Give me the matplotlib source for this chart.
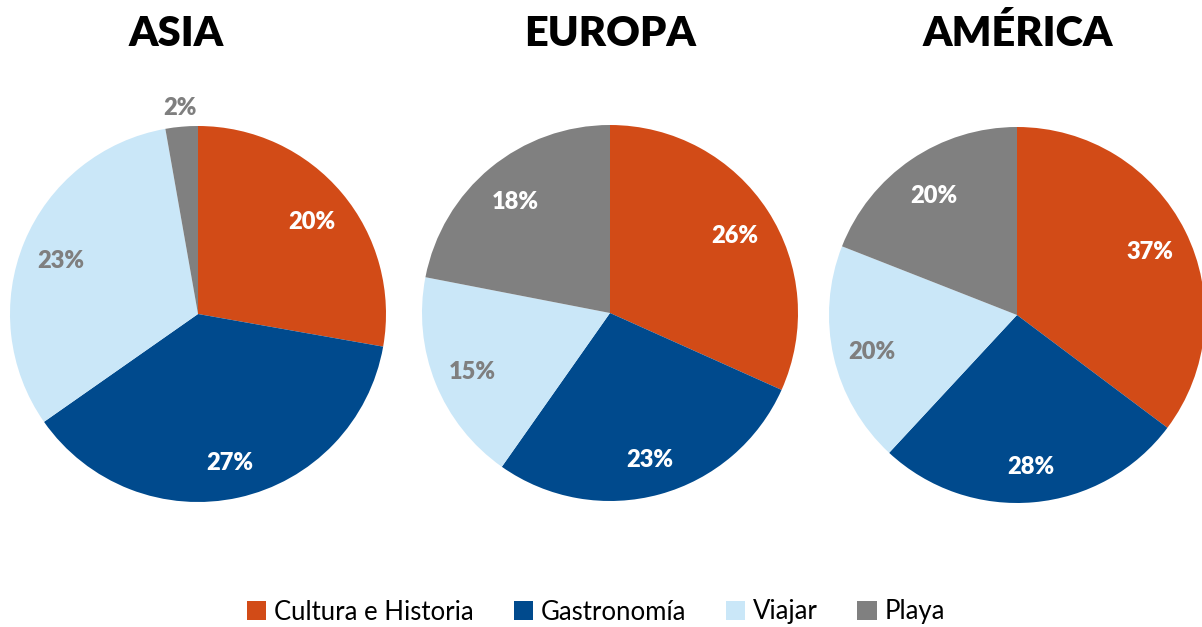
import matplotlib.pyplot as plt
from matplotlib.patches import Patch
import numpy as np

plt.rcParams['font.family'] = ['Lato', 'DejaVu Sans']

categorias = ["Cultura e Historia", "Gastronomía", "Viajar", "Playa"]
colores = ["#D24B17", "#004A8D", "#CAE7F8", "#808080"]
regiones = ["ASIA", "EUROPA", "AMÉRICA"]
asia = [20, 27, 23, 2]
europa = [26, 23, 15, 18]
america = [37, 28, 20, 20]
valores = [asia, europa, america]

# color of the value labels per category
color_etiqueta = ["white", "white", "#7F7F7F", "white"]

W, H = 1202, 627
fig = plt.figure(figsize=(W / 100, H / 100), dpi=100)

centros = [(198, 314), (610, 313), (1017, 315)]
radio = 188
titulo_x = [176, 610, 1018]

for i, (vals, (cx, cy)) in enumerate(zip(valores, centros)):
    ax = fig.add_axes([(cx - radio) / W, 1 - (cy + radio) / H, 2 * radio / W, 2 * radio / H])
    wedges, _ = ax.pie(vals, colors=colores, startangle=90, counterclock=False,
                       radius=1, wedgeprops=dict(linewidth=0))
    ax.set_xlim(-1, 1)
    ax.set_ylim(-1, 1)
    ax.axis('off')
    for j, w in enumerate(wedges):
        ang = np.deg2rad((w.theta1 + w.theta2) / 2)
        d = 0.79
        col = color_etiqueta[j]
        if vals[j] < 5:
            d = 1.12
            col = "#7F7F7F"
        ax.text(d * np.cos(ang), d * np.sin(ang) - 0.02, f"{vals[j]}%", ha='center', va='center',
                fontsize=17, fontweight='heavy', color=col, clip_on=False)
    fig.text(titulo_x[i] / W, 1 - 34 / H, regiones[i], ha='center', va='center',
             fontsize=30, fontweight='heavy', color='black')

handles = [Patch(facecolor=c, edgecolor='none') for c in colores]
fig.legend(handles, categorias, loc='center', bbox_to_anchor=(596 / W, 1 - 612 / H),
           ncol=4, frameon=False, fontsize=18.5, handlelength=0.75, handleheight=0.75,
           handletextpad=0.3, columnspacing=1.55)

fig.savefig("out.png", dpi=100)
